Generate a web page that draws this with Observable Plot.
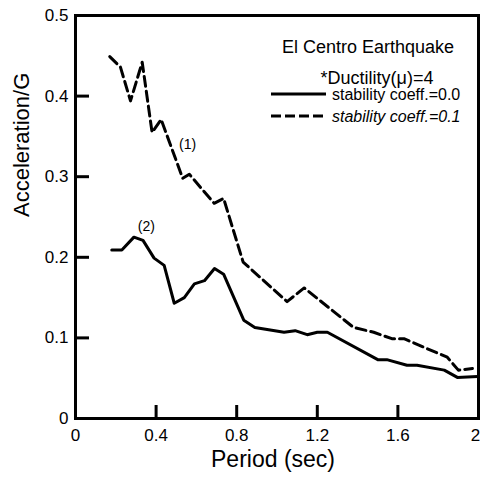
<!DOCTYPE html>
<html>
<head>
<meta charset="utf-8">
<script src="https://cdn.jsdelivr.net/npm/d3@7"></script>
<script src="https://cdn.jsdelivr.net/npm/@observablehq/plot@0.6"></script>
<style>
  html, body { margin: 0; padding: 0; background: #fff; }
  #chart svg { overflow: visible; }
</style>
</head>
<body>
<div id="chart"></div>
<script>
const FONT = "'Liberation Sans', Arial, Helvetica, sans-serif";

// stability coeff. = 0.0 (solid)
const periods0 = [0.18,0.23,0.29,0.335,0.39,0.44,0.49,0.54,0.59,0.64,0.69,0.735,0.835,0.89,1.035,1.09,1.15,1.2,1.25,1.5,1.545,1.645,1.695,1.83,1.895,1.995];
const accel0   = [0.209,0.209,0.225,0.221,0.199,0.19,0.143,0.15,0.167,0.171,0.186,0.179,0.122,0.113,0.107,0.109,0.104,0.107,0.107,0.073,0.073,0.066,0.066,0.06,0.051,0.052];

// stability coeff. = 0.1 (dashed)
const periods1 = [0.17,0.223,0.273,0.331,0.38,0.425,0.532,0.565,0.688,0.735,0.832,1.05,1.135,1.38,1.48,1.57,1.63,1.845,1.9,1.97];
const accel1   = [0.449,0.436,0.394,0.442,0.355,0.371,0.298,0.303,0.267,0.273,0.194,0.145,0.162,0.113,0.107,0.099,0.099,0.076,0.06,0.062];

const xTickValues = [0, 0.4, 0.8, 1.2, 1.6];
const xLastTick = [2];
const yTickValues = [0, 0.1, 0.2, 0.3, 0.4, 0.5];
const xInnerTicks = [0.4, 0.8, 1.2, 1.6];
const yInnerTicks = [0.1, 0.2, 0.3, 0.4];

const curveLabels = ["(1)", "(2)"];
const curveLabelX = [0.556, 0.352];
const curveLabelY = [0.34, 0.238];

const title = "El Centro Earthquake";
const subtitle = "*Ductility(\u03bc)=4";
const seriesNames = ["stability coeff.=0.0", "stability coeff.=0.1"];

const series0 = periods0.map((p, i) => ({period: p, accel: accel0[i]}));
const series1 = periods1.map((p, i) => ({period: p, accel: accel1[i]}));
const labelsData = curveLabels.map((t, i) => ({text: t, x: curveLabelX[i], y: curveLabelY[i]}));

function legendMark(index, scales, values, dims) {
  const g = d3.create("svg:g").attr("font-family", FONT).attr("fill", "#000");
  g.append("text").attr("x", 368).attr("y", 53).attr("text-anchor", "middle")
    .attr("font-size", 18).text(title);
  g.append("text").attr("x", 377).attr("y", 84).attr("text-anchor", "middle")
    .attr("font-size", 18).text(subtitle);
  g.append("line").attr("x1", 271).attr("x2", 326).attr("y1", 94).attr("y2", 94)
    .attr("stroke", "#000").attr("stroke-width", 3);
  g.append("text").attr("x", 332).attr("y", 100).attr("text-anchor", "start")
    .attr("font-size", 16).text(seriesNames[0]);
  g.append("line").attr("x1", 271).attr("x2", 326).attr("y1", 116).attr("y2", 116)
    .attr("stroke", "#000").attr("stroke-width", 3).attr("stroke-dasharray", "10,4");
  g.append("text").attr("x", 332).attr("y", 122).attr("text-anchor", "start")
    .attr("font-size", 16).attr("font-style", "italic").text(seriesNames[1]);
  return g.node();
}

const fmt = d => `${d}`;

const plot = Plot.plot({
  width: 481,
  height: 481,
  marginLeft: 75,
  marginRight: 3,
  marginTop: 15,
  marginBottom: 63,
  style: {fontFamily: FONT, background: "#fff", color: "#000"},
  x: {domain: [0, 2]},
  y: {domain: [0, 0.5]},
  marks: [
    Plot.axisX({ticks: xTickValues, tickFormat: fmt, tickSize: 0, tickPadding: 10, fontSize: 17, label: null}),
    Plot.axisX({ticks: xLastTick, tickFormat: fmt, tickSize: 0, tickPadding: 10, fontSize: 17, label: null, dx: -3}),
    Plot.axisY({ticks: yTickValues, tickFormat: fmt, tickSize: 0, tickPadding: 7, fontSize: 17, label: null}),
    Plot.tickX(xInnerTicks, {x: d => d, insetTop: 403 - 13, strokeWidth: 3}),
    Plot.tickY(yInnerTicks, {y: d => d, insetRight: 403 - 14, strokeWidth: 3}),
    Plot.frame({stroke: "#000", strokeWidth: 3}),
    Plot.line(series0, {x: "period", y: "accel", stroke: "#000", strokeWidth: 3}),
    Plot.line(series1, {x: "period", y: "accel", stroke: "#000", strokeWidth: 3, strokeDasharray: "10,5"}),
    Plot.text(labelsData, {x: "x", y: "y", text: "text", fontSize: 14, fill: "#000"}),
    Plot.text(["Period (sec)"], {frameAnchor: "bottom", dy: 48, dx: -4, fontSize: 23, fill: "#000"}),
    Plot.text(["Acceleration/G"], {frameAnchor: "left", dx: -54, rotate: -90, fontSize: 22, fill: "#000"}),
    legendMark
  ]
});
document.getElementById("chart").appendChild(plot);
</script>
</body>
</html>
